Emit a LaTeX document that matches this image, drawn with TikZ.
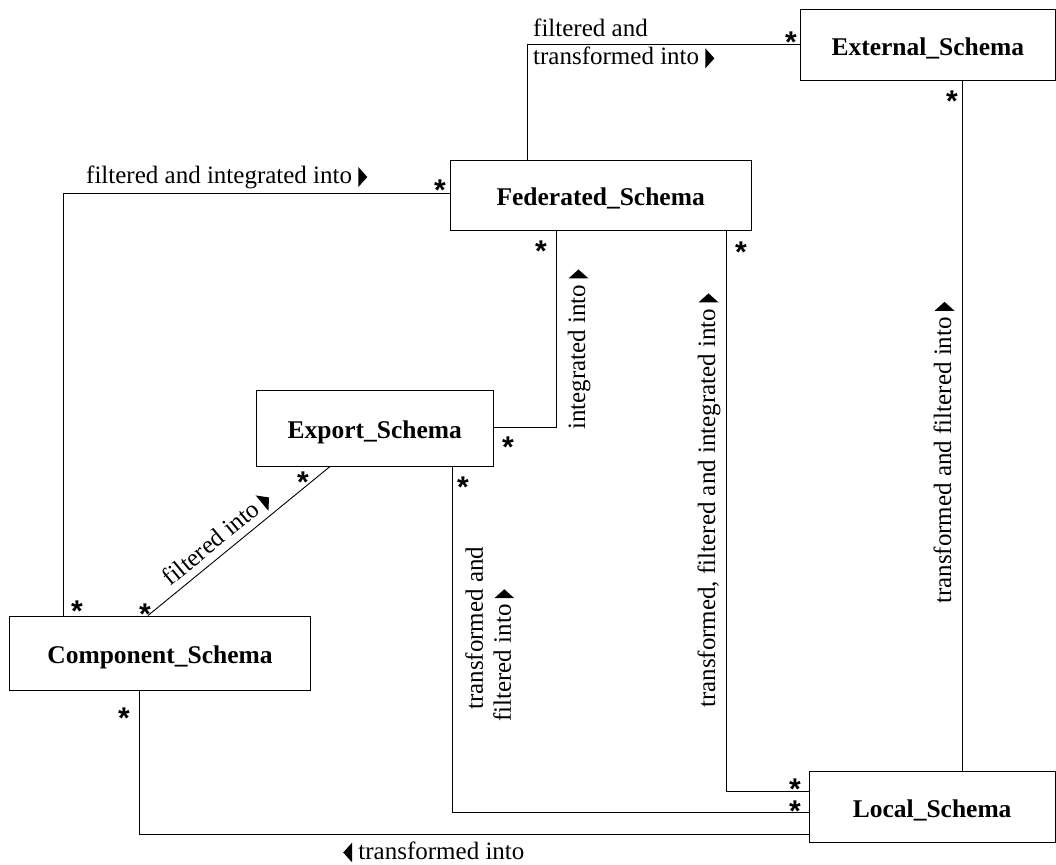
\documentclass[tikz,border=0pt]{standalone}
\usepackage{fontspec}
\setmainfont{Liberation Serif}
\newfontfamily\starfont{Liberation Sans}
\newcommand\rtri{\tikz[baseline=0pt,x=1pt,y=1pt]\fill (0,-3.5) -- (9,6.5) -- (0,16.5) -- cycle;}
\newcommand\ltri{\tikz[baseline=0pt,x=1pt,y=1pt]\fill (9,-3.5) -- (0,6.5) -- (9,16.5) -- cycle;}
\begin{document}
\begin{tikzpicture}[x=1pt,y=-1pt,
  cls/.style={draw, line width=1pt, inner sep=0pt, text height=20pt, text depth=0pt,
    font=\bfseries\fontsize{25.5}{30}\selectfont},
  conn/.style={draw, line width=0.9pt},
  lbl/.style={inner sep=0pt, font=\fontsize{25}{28}\selectfont},
  mult/.style={inner sep=0pt, anchor=base, font=\starfont\bfseries\fontsize{30}{30}\selectfont}]
\useasboundingbox (0,0) rectangle (1056,864);
% classes
\node[cls, minimum width=254.3pt, minimum height=70.7pt] (ext) at (927.85,45.35) {External\_Schema};
\node[cls, minimum width=300.7pt, minimum height=70.4pt] (fed) at (600.65,195.5) {Federated\_Schema};
\node[cls, minimum width=236.3pt, minimum height=75.3pt] (exp) at (374.85,428.35) {Export\_Schema};
\node[cls, minimum width=301.4pt, minimum height=74.7pt] (comp) at (160,653.35) {Component\_Schema};
\node[cls, minimum width=245.7pt, minimum height=71pt] (loc) at (932.15,807.2) {Local\_Schema};
% bend points
\coordinate (b1) at (63,193);
\coordinate (b2) at (527.7,44.5);
\coordinate (b3) at (962,0);
\coordinate (b4) at (556,427);
\coordinate (b5) at (726,791);
\coordinate (b6) at (452,812);
\coordinate (b7a) at (330,0);
\coordinate (b7b) at (148,0);
\coordinate (b8) at (139,834);
% connectors
\draw[conn] (fed.west |- b1) -- (b1) -- (b1 |- comp.north);
\draw[conn] (b2 |- fed.north) -- (b2) -- (b2 -| ext.west);
\draw[conn] (b3 |- ext.south) -- (b3 |- loc.north);
\draw[conn] (b4 |- fed.south) -- (b4) -- (b4 -| exp.east);
\draw[conn] (b5 |- fed.south) -- (b5) -- (b5 -| loc.west);
\draw[conn] (b6 |- exp.south) -- (b6) -- (b6 -| loc.west);
\draw[conn] (b7a |- exp.south) -- (b7b |- comp.north);
\draw[conn] (b8 |- comp.south) -- (b8) -- (b8 -| loc.west);
% labels
\node[lbl, anchor=base west] (lA) at (86,183.5) {filtered and integrated into \rtri};
\node[lbl, anchor=north west, align=left] (lB) at (533,19) {filtered and\\transformed into \rtri};
\node[lbl, rotate=90, anchor=base west] (lC) at (585,430) {integrated into \rtri};
\node[lbl, rotate=90, anchor=north west, align=left] (lD) at (465,722) {\hspace*{12pt}transformed and\\filtered into \rtri};
\node[lbl, rotate=90, anchor=base west] (lE) at (715,708) {transformed, filtered and integrated into \rtri};
\node[lbl, rotate=90, anchor=base west] (lF) at (951,604) {transformed and filtered into \rtri};
\node[lbl, rotate=39.5, anchor=base west] (lG) at (170.7,586.9) {filtered into \rtri};
\node[lbl, anchor=base west] (lH) at (343,859) {\ltri\ transformed into};
% multiplicities
\node[mult] (m1) at (791,53) {*};
\node[mult] (m2) at (952,112) {*};
\node[mult] (m3) at (440,200) {*};
\node[mult] (m4) at (541,261) {*};
\node[mult] (m5) at (741,262) {*};
\node[mult] (m6) at (508,457) {*};
\node[mult] (m7) at (463,497) {*};
\node[mult] (m8) at (303,492) {*};
\node[mult] (m9) at (77,621) {*};
\node[mult] (m10) at (145,624) {*};
\node[mult] (m11) at (124,728) {*};
\node[mult] (m12) at (795,799) {*};
\node[mult] (m13) at (795,821) {*};
\end{tikzpicture}
\end{document}
